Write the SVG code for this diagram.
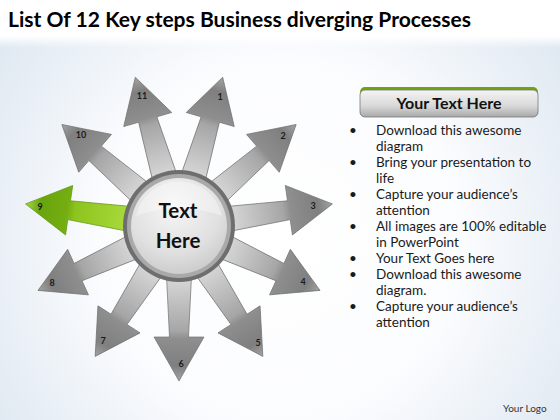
<svg xmlns="http://www.w3.org/2000/svg" width="560" height="420" viewBox="0 0 560 420">
<defs>
<radialGradient id="bg" cx="280" cy="240" r="360" gradientUnits="userSpaceOnUse">
<stop offset="0" stop-color="#ffffff"/>
<stop offset="0.5" stop-color="#fbfcfe"/>
<stop offset="1" stop-color="#dce6f0"/>
</radialGradient>
<linearGradient id="topfade" x1="0" y1="0" x2="0" y2="1">
<stop offset="0" stop-color="#ffffff"/>
<stop offset="0.75" stop-color="#ffffff"/>
<stop offset="1" stop-color="#ffffff" stop-opacity="0"/>
</linearGradient>
<linearGradient id="gray" gradientUnits="userSpaceOnUse" x1="0" y1="-55" x2="0" y2="-155">
<stop offset="0" stop-color="#d4d4d4"/>
<stop offset="0.5" stop-color="#a6a6a6"/>
<stop offset="0.58" stop-color="#8e8e8e"/>
<stop offset="0.85" stop-color="#7f7f7f"/>
<stop offset="1" stop-color="#a4a4a4"/>
</linearGradient>
<linearGradient id="green" gradientUnits="userSpaceOnUse" x1="0" y1="-55" x2="0" y2="-155">
<stop offset="0" stop-color="#a8d83a"/>
<stop offset="0.5" stop-color="#8cc41e"/>
<stop offset="0.58" stop-color="#74ae12"/>
<stop offset="0.85" stop-color="#68a40c"/>
<stop offset="1" stop-color="#a8d84c"/>
</linearGradient>
<radialGradient id="hub" cx="0.45" cy="0.3" r="0.8">
<stop offset="0" stop-color="#f6f6f6"/>
<stop offset="0.6" stop-color="#e0e0e0"/>
<stop offset="1" stop-color="#c4c4c4"/>
</radialGradient>
<linearGradient id="hdr" x1="0" y1="0" x2="0" y2="1">
<stop offset="0" stop-color="#f4f4f4"/>
<stop offset="0.6" stop-color="#d8d8d8"/>
<stop offset="1" stop-color="#a8a8a8"/>
</linearGradient>
<path id="arr" d="M -12.5,-50 L -9.5,-111 L -25,-111 L 0,-155 L 25,-111 L 9.5,-111 L 12.5,-50 Z"/>
</defs>
<style>
.a { fill: url(#gray); stroke: #707070; stroke-width: 0.7; }
.ag { fill: url(#green); stroke: #5f950c; stroke-width: 0.7; }
.n { font-family: Lato, "Liberation Sans", sans-serif; font-weight: bold; font-size: 9px; fill: #1a1a1a; text-anchor: middle; }
.b { font-family: Lato, "Open Sans", "Liberation Sans", sans-serif; font-size: 13.5px; fill: #1a1a1a; }
</style>
<rect x="0" y="0" width="560" height="420" fill="url(#bg)"/>
<rect x="0" y="0" width="560" height="48" fill="url(#topfade)"/>
<text x="8" y="27" font-family="Lato, 'Liberation Sans', sans-serif" font-weight="bold" font-size="21" fill="#000" textLength="463" lengthAdjust="spacingAndGlyphs">List Of 12 Key steps Business diverging Processes</text>

<g transform="translate(179,226)">
<g id="arrow-1"><use href="#arr" class="a" transform="rotate(16.364)"/></g>
<g id="arrow-2"><use href="#arr" class="a" transform="rotate(49.091)"/></g>
<g id="arrow-3"><use href="#arr" class="a" transform="rotate(81.818)"/></g>
<g id="arrow-4"><use href="#arr" class="a" transform="rotate(114.545)"/></g>
<g id="arrow-5"><use href="#arr" class="a" transform="rotate(147.273)"/></g>
<g id="arrow-6"><use href="#arr" class="a" transform="rotate(180)"/></g>
<g id="arrow-7"><use href="#arr" class="a" transform="rotate(212.727)"/></g>
<g id="arrow-8"><use href="#arr" class="a" transform="rotate(245.455)"/></g>
<g id="arrow-9"><use href="#arr" class="ag" transform="rotate(278.182)"/></g>
<g id="arrow-10"><use href="#arr" class="a" transform="rotate(310.909)"/></g>
<g id="arrow-11"><use href="#arr" class="a" transform="rotate(343.636)"/></g>
</g>
<g id="labels">
<text class="n" x="220" y="100">1</text>
<text class="n" x="283" y="139">2</text>
<text class="n" x="313" y="209">3</text>
<text class="n" x="303" y="285">4</text>
<text class="n" x="258" y="346">5</text>
<text class="n" x="181" y="367">6</text>
<text class="n" x="103" y="344">7</text>
<text class="n" x="52" y="286">8</text>
<text class="n" x="40" y="210">9</text>
<text class="n" x="81" y="138">10</text>
<text class="n" x="142" y="99">11</text>
</g>

<g id="hub-node">
<circle cx="179" cy="226" r="56" fill="#6e6e6e"/>
<circle cx="179" cy="226" r="52" fill="#a9a9a9"/>
<circle cx="179" cy="226" r="48" fill="url(#hub)"/>
<path d="M 136,216 A 44,44 0 0 1 222,216 Q 179,200 136,216 Z" fill="#ffffff" opacity="0.35"/>
<text x="178" y="218" font-family="Lato, 'Liberation Sans', sans-serif" font-weight="bold" font-size="20.5" fill="#111" text-anchor="middle">Text</text>
<text x="178" y="248" font-family="Lato, 'Liberation Sans', sans-serif" font-weight="bold" font-size="20.5" fill="#111" text-anchor="middle">Here</text>
</g>

<g id="panel-header">
<rect x="360" y="87" width="178" height="30" rx="5" fill="#6ea312"/>
<rect x="360" y="90" width="178" height="27" rx="5" fill="url(#hdr)" stroke="#7a7a7a" stroke-width="0.8"/>
<text x="449" y="109" font-family="Lato, 'Liberation Sans', sans-serif" font-weight="bold" font-size="16" fill="#111" text-anchor="middle">Your Text Here</text>
</g>

<g id="bullets">
<text class="b" x="349" y="135">•</text>
<text class="b" x="376" y="135">Download this awesome</text>
<text class="b" x="376" y="151">diagram</text>
<text class="b" x="349" y="167">•</text>
<text class="b" x="376" y="167">Bring your presentation to</text>
<text class="b" x="376" y="183">life</text>
<text class="b" x="349" y="199">•</text>
<text class="b" x="376" y="199">Capture your audience’s</text>
<text class="b" x="376" y="215">attention</text>
<text class="b" x="349" y="231">•</text>
<text class="b" x="376" y="231">All images are 100% editable</text>
<text class="b" x="376" y="247">in PowerPoint</text>
<text class="b" x="349" y="263">•</text>
<text class="b" x="376" y="263">Your Text Goes here</text>
<text class="b" x="349" y="279">•</text>
<text class="b" x="376" y="279">Download this awesome</text>
<text class="b" x="376" y="295">diagram.</text>
<text class="b" x="349" y="311">•</text>
<text class="b" x="376" y="311">Capture your audience’s</text>
<text class="b" x="376" y="327">attention</text>
</g>

<text x="503" y="412" font-family="Lato, 'Liberation Sans', sans-serif" font-size="10" fill="#333">Your Logo</text>
</svg>
